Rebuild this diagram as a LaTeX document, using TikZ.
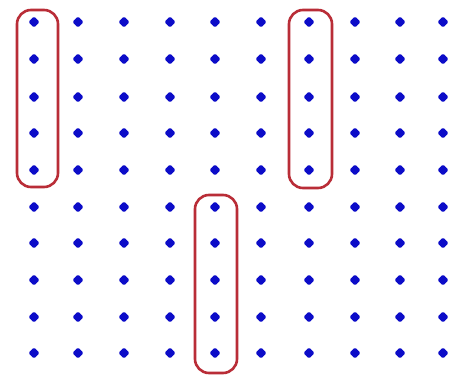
\documentclass[tikz,border=0pt]{standalone}
\usetikzlibrary{shapes.geometric}
\definecolor{dotblue}{RGB}{12,12,200}
\definecolor{loopred}{RGB}{185,45,55}
\begin{document}
\begin{tikzpicture}[x=1pt,y=-1pt,
  gdot/.style={diamond,fill=dotblue,inner sep=0pt,minimum size=11.5pt,rounded corners=1.5pt},
  loop/.style={draw=loopred,line width=2.6pt,rounded corners=14pt}]
\useasboundingbox (0,0) rectangle (461,382);
\fill[white] (0,0) rectangle (461,382);
\foreach \i/\x in {0/34,1/78,2/124,3/170,4/215,5/261,6/309,7/355,8/400,9/443}{
  \foreach \j/\y in {0/22,1/59,2/97,3/133,4/170,5/207,6/243,7/280,8/317,9/353}{
    \node[gdot] (d-\i-\j) at (\x,\y) {};
  }
}
\draw[loop] (17,10) rectangle (58,187);
\draw[loop] (289,10) rectangle (332,188);
\draw[loop] (195,195) rectangle (237,373);
\end{tikzpicture}
\end{document}
